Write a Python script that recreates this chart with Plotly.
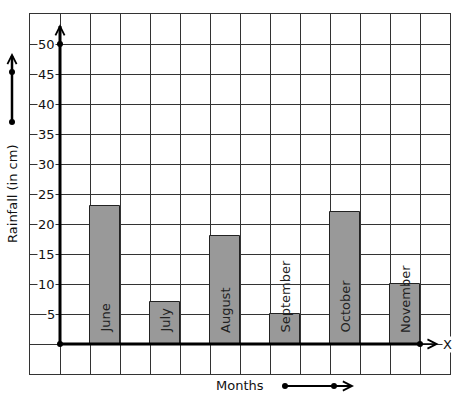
import plotly.graph_objects as go

months = ["June", "July", "August", "September", "October", "November"]
rainfall = [23, 7, 18, 5, 22, 10]
bar_x = [1.5, 3.5, 5.5, 7.5, 9.5, 11.5]
y_ticks = [5, 10, 15, 20, 25, 30, 35, 40, 45, 50]

FONT = "DejaVu Sans"
GRID = "#333333"

fig = go.Figure()
fig.add_trace(go.Bar(
    x=bar_x, y=rainfall, width=1,
    marker=dict(color="#999999", line=dict(color="#222222", width=1)),
    hoverinfo="skip", showlegend=False,
))

# axes (thick) as shapes
fig.add_shape(type="line", x0=0, y0=0, x1=0, y1=53, xref="x", yref="y",
              line=dict(color="black", width=3), layer="above")
fig.add_shape(type="line", x0=0, y0=0, x1=12, y1=0, xref="x", yref="y",
              line=dict(color="black", width=3), layer="above")

# dots on axes
fig.add_trace(go.Scatter(
    x=[0, 0, 12], y=[0, 50, 0], mode="markers",
    marker=dict(color="black", size=6), cliponaxis=False,
    hoverinfo="skip", showlegend=False,
))

ann = []
# arrowheads
ann.append(dict(x=12.62, y=0, ax=12.0, ay=0, xref="x", yref="y", axref="x", ayref="y",
                text="", showarrow=True, arrowhead=5, arrowwidth=1.5, arrowsize=1.2,
                arrowcolor="black"))
ann.append(dict(x=0, y=53.3, ax=0, ay=51, xref="x", yref="y", axref="x", ayref="y",
                text="", showarrow=True, arrowhead=5, arrowwidth=1.5, arrowsize=1.2,
                arrowcolor="black"))

# tick labels
for v in y_ticks:
    ann.append(dict(x=-0.15, y=v, xref="x", yref="y", text=str(v), showarrow=False,
                    xanchor="right", yanchor="middle", bgcolor="white", borderpad=0,
                    font=dict(family=FONT, size=13, color="#111111")))

# month labels inside bars
for m, xv in zip(months, bar_x):
    ann.append(dict(x=xv, y=0, xref="x", yref="y", text=m, showarrow=False,
                    textangle=-90, xanchor="center", yanchor="bottom", yshift=9,
                    font=dict(family=FONT, size=13, color="#222222")))

# axis letters
ann.append(dict(x=0.05, y=55.6, xref="x", yref="y", text="Y", showarrow=False,
                xanchor="center", yanchor="middle", bgcolor="white", borderpad=0,
                font=dict(family=FONT, size=13, color="#111111")))
ann.append(dict(x=12.93, y=0, xref="x", yref="y", text="X", showarrow=False,
                xanchor="center", yanchor="middle", bgcolor="white", borderpad=0,
                font=dict(family=FONT, size=13, color="#111111")))

# axis titles
ann.append(dict(x=-0.043, y=0.5, xref="paper", yref="paper", text="Rainfall (in cm)",
                showarrow=False, textangle=-90, xanchor="center", yanchor="middle",
                font=dict(family=FONT, size=13, color="#111111")))
ann.append(dict(x=0.5, y=-0.031, xref="paper", yref="paper", text="Months",
                showarrow=False, xanchor="center", yanchor="middle",
                font=dict(family=FONT, size=13, color="#111111")))

# decorative arrows
px = lambda p: (p - 30) / 420.0
py = lambda p: (374 - p) / 360.0
fig.add_shape(type="line", xref="paper", yref="paper", x0=px(12), x1=px(12),
              y0=py(122), y1=py(56), line=dict(color="black", width=2.5))
ann.append(dict(x=px(12), y=py(53), ax=0, ay=10, xref="paper", yref="paper",
                text="", showarrow=True, arrowhead=5, arrowwidth=1.5, arrowsize=1.2,
                arrowcolor="black"))
fig.add_shape(type="line", xref="paper", yref="paper", x0=px(285), x1=px(350),
              y0=py(386), y1=py(386), line=dict(color="black", width=2))
ann.append(dict(x=px(354), y=py(386), ax=-10, ay=0, xref="paper", yref="paper",
                text="", showarrow=True, arrowhead=5, arrowwidth=1.5, arrowsize=1.2,
                arrowcolor="black"))
for (cx, cy) in [(12, 72), (12, 122), (285, 386), (334, 386)]:
    fig.add_shape(type="circle", xref="paper", yref="paper", xsizemode="pixel",
                  ysizemode="pixel", xanchor=px(cx), yanchor=py(cy),
                  x0=-3, x1=3, y0=-3, y1=3, fillcolor="black", line=dict(width=0))

fig.update_layout(
    width=457, height=399,
    margin=dict(l=30, r=7, t=14, b=25),
    paper_bgcolor="white", plot_bgcolor="white",
    annotations=ann,
    xaxis=dict(range=[-1, 13], dtick=1, tick0=0, showticklabels=False, ticks="",
               showgrid=True, gridcolor=GRID, gridwidth=1, zeroline=False,
               showline=True, linecolor=GRID, linewidth=1, mirror=True, fixedrange=True),
    yaxis=dict(range=[-5, 55], dtick=5, tick0=0, showticklabels=False, ticks="",
               showgrid=True, gridcolor=GRID, gridwidth=1, zeroline=False,
               showline=True, linecolor=GRID, linewidth=1, mirror=True, fixedrange=True),
    bargap=0,
)

# remove the default 8px page margin so the figure sits at the window's corner
fig.write_html("out.html", config={"displayModeBar": False},
               post_script="document.body.style.margin='0';document.body.style.overflow='hidden';")
